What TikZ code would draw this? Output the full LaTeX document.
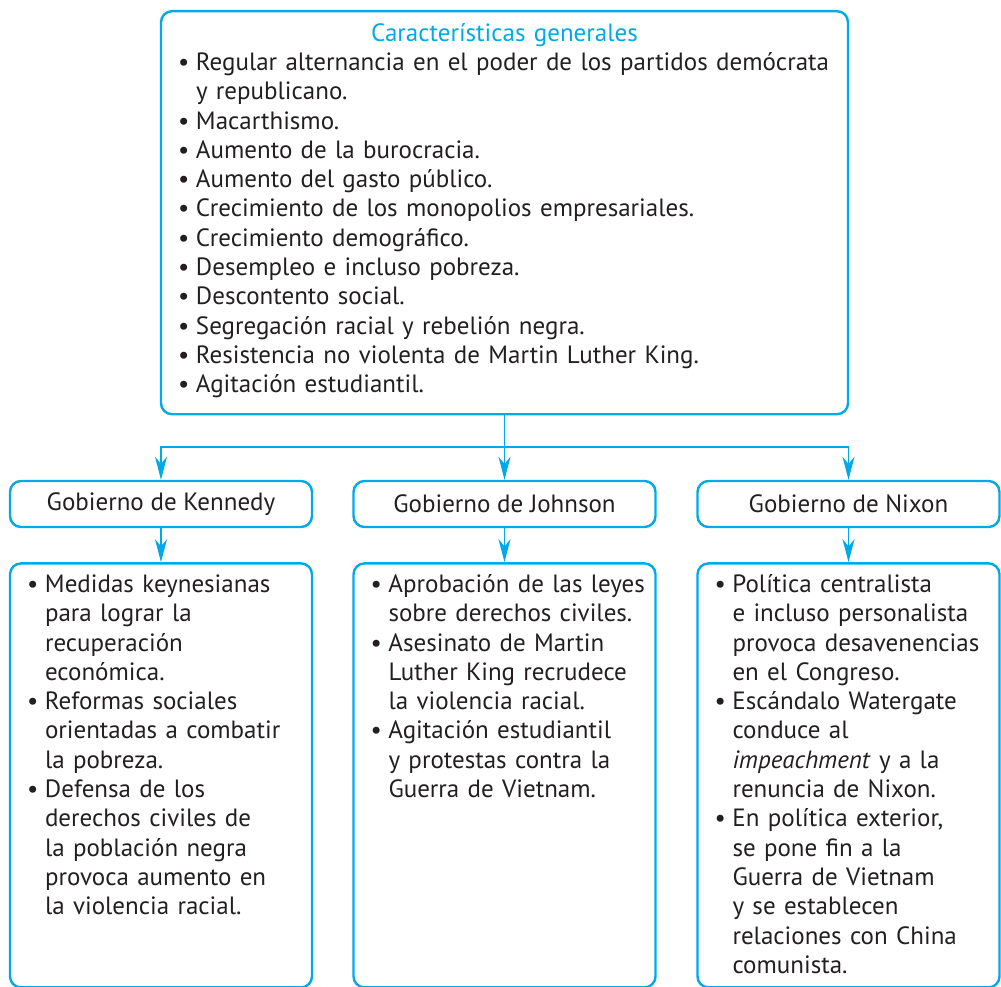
\documentclass[tikz,border=0pt]{standalone}
\usepackage{fontspec}
\setmainfont{PT Sans}
\usepackage{tikz}
\usetikzlibrary{positioning, arrows.meta}

\definecolor{cian}{RGB}{0,170,232}
\definecolor{texto}{RGB}{35,31,32}

% punto de lista con sangria francesa
\newcommand{\vineta}[1]{\noindent\hangindent=14pt\hangafter=1\rightskip=-25pt plus 1fil\makebox[14pt][l]{\hspace{-4pt}\textbullet}#1\par}

\tikzset{
  caja/.style={draw=cian, line width=2.4pt, rounded corners=11pt, text=texto,
    font=\fontsize{25}{29.3}\selectfont},
  titulo/.style={caja, minimum width=302pt, minimum height=46pt, inner sep=0pt},
  lista/.style={caja, text width=260pt, inner xsep=21pt, inner ysep=12pt,
    align=left, text height=17pt},
  flecha/.style={draw=cian, line width=1.4pt, -{Stealth[length=23pt, width=12pt, inset=7pt]}}
}

\begin{document}
\begin{tikzpicture}[x=1pt, y=-1pt]
  \useasboundingbox (0,0) rectangle (1001,987);

  % Caracteristicas generales
  \node[lista, text width=645pt, text height=18pt, text depth=361pt, anchor=north] (generales) at (504.5,10) {%
    \makebox[\linewidth]{\color{cian}Características generales}\par
    \vineta{Regular alternancia en el poder de los partidos demócrata\newline y republicano.}
    \vineta{Macarthismo.}
    \vineta{Aumento de la burocracia.}
    \vineta{Aumento del gasto público.}
    \vineta{Crecimiento de los monopolios empresariales.}
    \vineta{Crecimiento demográfico.}
    \vineta{Desempleo e incluso pobreza.}
    \vineta{Descontento social.}
    \vineta{Segregación racial y rebelión negra.}
    \vineta{Resistencia no violenta de Martin Luther King.}
    \vineta{Agitación estudiantil.}%
  };

  % Gobiernos
  \node[titulo] (kennedy) at (161,504) {Gobierno de Kennedy};
  \node[titulo] (johnson) at (504.5,504) {Gobierno de Johnson};
  \node[titulo] (nixon) at (848.5,504) {Gobierno de Nixon};

  % Listas de cada gobierno
  \node[lista, text depth=383pt, below=34pt of kennedy] (kennedyTxt) {%
    \vineta{Medidas keynesianas\newline para lograr la\newline recuperación\newline económica.}
    \vineta{Reformas sociales\newline orientadas a combatir\newline la pobreza.}
    \vineta{Defensa de los\newline derechos civiles de\newline la población negra\newline provoca aumento en\newline la violencia racial.}%
  };
  \node[lista, text depth=383pt, below=34pt of johnson] (johnsonTxt) {%
    \vineta{Aprobación de las leyes\newline sobre derechos civiles.}
    \vineta{Asesinato de Martin\newline Luther King recrudece\newline la violencia racial.}
    \vineta{Agitación estudiantil\newline y protestas contra la\newline Guerra de Vietnam.}%
  };
  \node[lista, text depth=383pt, below=34pt of nixon] (nixonTxt) {%
    \vineta{Política centralista\newline e incluso personalista\newline provoca desavenencias\newline en el Congreso.}
    \vineta{Escándalo Watergate\newline conduce al\newline \textit{impeachment} y a la\newline renuncia de Nixon.}
    \vineta{En política exterior,\newline se pone fin a la\newline Guerra de Vietnam\newline y se establecen\newline relaciones con China\newline comunista.}%
  };

  % Conectores
  \coordinate (rama) at (504.5,447);
  \draw[flecha] (generales.south) -- (johnson.north);
  \draw[flecha] (generales.south) |- (kennedy.north |- rama) -- (kennedy.north);
  \draw[flecha] (generales.south) |- (nixon.north |- rama) -- (nixon.north);
  \foreach \g in {kennedy, johnson, nixon}
    \draw[flecha] (\g.south) -- (\g Txt.north);
\end{tikzpicture}
\end{document}
